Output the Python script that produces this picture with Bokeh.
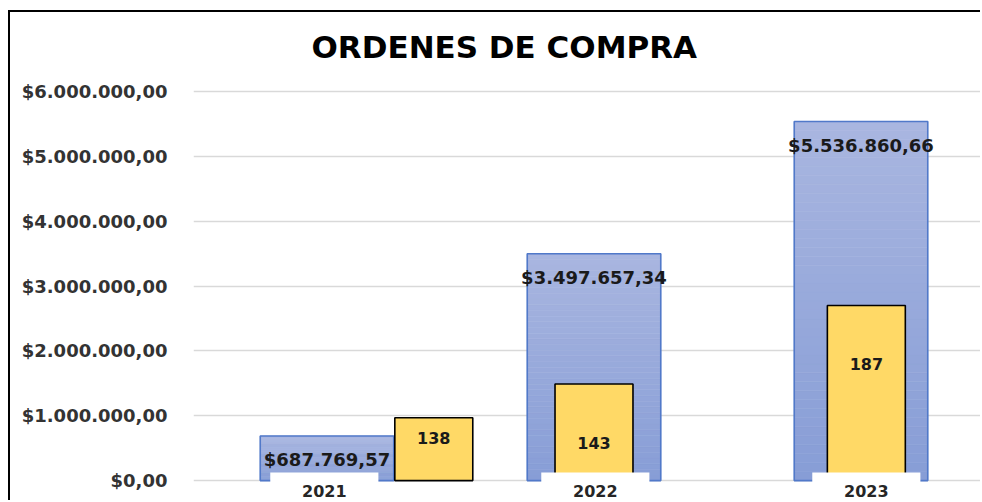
import numpy as np
from bokeh.plotting import figure
from bokeh.models import Range1d, FixedTicker, ColumnDataSource, Title
from bokeh.core.properties import value
from bokeh.embed import file_html
from bokeh.resources import INLINE

# ---------------- data ----------------
years = ["2021", "2022", "2023"]
montos = [687769.57, 3497657.34, 5536860.66]
montos_txt = ["$687.769,57", "$3.497.657,34", "$5.536.860,66"]
ordenes = [138, 143, 187]
ordenes_alto = [970000, 1490000, 2700000]   # drawn height of the order bars (primary scale)
y_ticks = [0, 1000000, 2000000, 3000000, 4000000, 5000000, 6000000]
y_tick_labels = ["$0,00", "$1.000.000,00", "$2.000.000,00", "$3.000.000,00",
                 "$4.000.000,00", "$5.000.000,00", "$6.000.000,00"]
titulo = "ORDENES DE COMPRA"

# ---------------- layout / style ----------------
W, H = 972, 490
LEFT, TOP = 183, 64
CAT_PX = 267.0
frame_w = W - LEFT
frame_h = H - TOP
px_per_unit = 391.0 / 6000000.0
y_end = 6000000 + 13 / px_per_unit
y_start = y_end - frame_h / px_per_unit

FONT = "DejaVu Sans"
yellow_shift = [0.40, 0.0, 0.02]
box_shift = [-0.01, 0.005, 0.02]
yellow_label_drop = [20, 59, 59]

p = figure(width=W, height=H, output_backend="svg", toolbar_location=None,
           x_range=Range1d(0, frame_w / CAT_PX), y_range=Range1d(y_start, y_end),
           min_border_left=LEFT, min_border_top=TOP, min_border_right=0,
           min_border_bottom=0)
p.styles = {"border-left": "2px solid #000000", "border-top": "2px solid #000000",
            "margin-left": "8px", "margin-top": "10px"}
p.outline_line_color = None
p.background_fill_color = "white"
p.border_fill_color = "white"

xc = np.arange(len(years)) + 0.5

# blue bars with vertical gradient
N = 40
top_rgb = np.array([0xA9, 0xB6, 0xE0])
bot_rgb = np.array([0x87, 0x9D, 0xD6])
qx0, qx1, qb, qt, qc = [], [], [], [], []
for i, v in enumerate(montos):
    for k in range(N):
        t = (k + 0.5) / N
        c = bot_rgb + (top_rgb - bot_rgb) * t
        qx0.append(xc[i] - 0.25)
        qx1.append(xc[i] + 0.25)
        qb.append(v * k / N)
        qt.append(v * (k + 1) / N)
        qc.append("#%02x%02x%02x" % tuple(int(round(z)) for z in c))
p.quad(left=qx0, right=qx1, bottom=qb, top=qt, fill_color=qc, line_color=qc, line_width=0.6)
p.vbar(x=xc, top=montos, bottom=0, width=0.5, fill_color=None,
       line_color="#5179c9", line_width=1.6)

# yellow bars
yx = xc + np.array(yellow_shift)
p.vbar(x=yx, top=ordenes_alto, bottom=0, width=0.292, fill_color="#FFD966",
       line_color="#000000", line_width=1.6)

# white boxes behind category labels
bx = xc + np.array(box_shift)
p.rect(x=bx, y=[y_start] * len(years), width=0.405, height=60, height_units="screen",
       fill_color="white", line_color=None)

# labels
src_b = ColumnDataSource(dict(x=xc, y=montos, t=montos_txt))
p.text(x="x", y="y", text="t", source=src_b, y_offset=24, text_align="center",
       text_baseline="middle", text_font=value(FONT), text_font_style="bold",
       text_font_size="18px", text_color="#1a1a1a")

src_y = ColumnDataSource(dict(x=yx, y=ordenes_alto, t=[str(o) for o in ordenes],
                              off=yellow_label_drop))
p.text(x="x", y="y", text="t", source=src_y, y_offset="off", text_align="center",
       text_baseline="middle", text_font=value(FONT), text_font_style="bold",
       text_font_size="16px", text_color="#1a1a1a")

src_c = ColumnDataSource(dict(x=bx, y=[0] * len(years), t=years))
p.text(x="x", y="y", text="t", source=src_c, y_offset=10, text_align="center",
       text_baseline="middle", text_font=value(FONT), text_font_style="bold",
       text_font_size="16px", text_color="#262626")

# axes
p.xaxis.visible = False
p.xgrid.grid_line_color = None
p.ygrid.grid_line_color = "#d9d9d9"
p.ygrid.grid_line_width = 1.5
p.ygrid.ticker = FixedTicker(ticks=y_ticks)
ax = p.yaxis[0]
ax.ticker = FixedTicker(ticks=y_ticks)
ax.major_label_overrides = {float(t): l for t, l in zip(y_ticks, y_tick_labels)}
ax.major_label_overrides.update({int(t): l for t, l in zip(y_ticks, y_tick_labels)})
ax.axis_line_color = None
ax.major_tick_line_color = None
ax.minor_tick_line_color = None
ax.major_tick_out = 0
ax.major_label_standoff = 26
ax.major_label_text_font = FONT
ax.major_label_text_font_style = "bold"
ax.major_label_text_font_size = "18px"
ax.major_label_text_color = "#333333"

p.title = Title(text=titulo, align="left", offset=118, standoff=28, text_font=FONT,
                text_font_style="bold", text_font_size="31px", text_color="#000000")

open("out.html", "w").write(file_html(p, INLINE))
